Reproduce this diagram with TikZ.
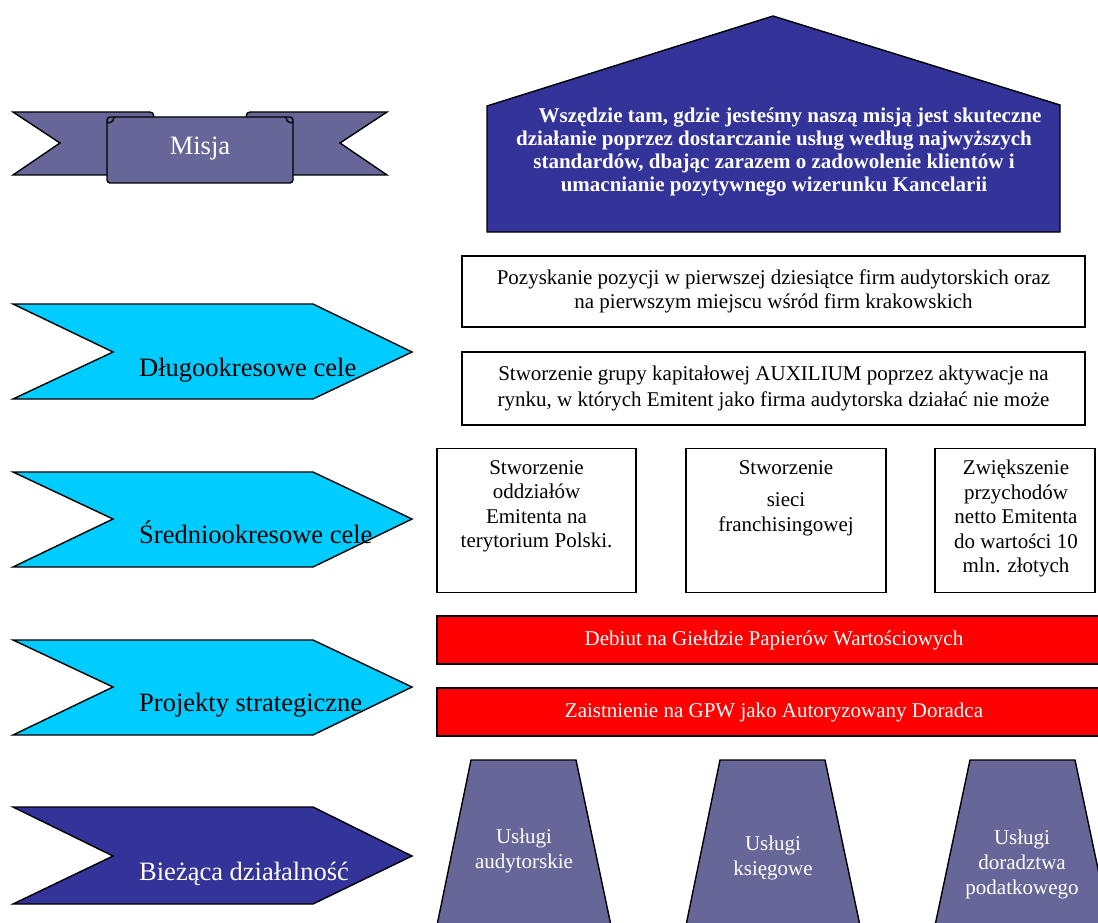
\documentclass[tikz,border=0pt]{standalone}
\usepackage{fontspec}
\setmainfont{Liberation Serif}
\definecolor{cyanc}{HTML}{00CCFF}
\definecolor{navy}{HTML}{333399}
\definecolor{ribbon}{HTML}{666699}
\definecolor{redc}{HTML}{FF0000}
\tikzset{
  outline/.style={draw=black, line width=1.4pt, line join=miter},
  chevc/.style={outline, fill=cyanc},
  chevn/.style={outline, fill=navy},
  lbl/.style={font=\fontsize{26.5}{30}\selectfont, anchor=base west, inner sep=0pt},
  boxt/.style={font=\fontsize{21}{24.5}\selectfont, align=center, inner sep=0pt},
  wbox/.style={outline, fill=white, inner sep=0pt},
  redbar/.style={outline, fill=redc, text=white, font=\fontsize{21}{24.5}\selectfont, inner sep=0pt},
  trap/.style={outline, fill=ribbon},
  traptext/.style={text=white, font=\fontsize{21}{25}\selectfont, align=center, inner sep=0pt},
}
\begin{document}
\begin{tikzpicture}[x=1pt, y=-1pt]
\useasboundingbox (0,0) rectangle (1098,923);
\clip (0,0) rectangle (1098,923);
\fill[white] (0,0) rectangle (1098,923);

% Misja ribbon
\draw[outline, fill=ribbon] (13,112) -- (150,112) .. controls (155,112) and (155,120) .. (150,120) -- (150,175) -- (13,175) -- (60,143) -- cycle;
\draw[outline, fill=ribbon] (387,112) -- (250,112) .. controls (245,112) and (245,120) .. (250,120) -- (250,175) -- (387,175) -- (340,143) -- cycle;
\draw[outline, fill=ribbon, rounded corners=3pt] (107,117) rectangle (293,183);
\draw[outline] (107,122) .. controls (109,124) and (114,122) .. (114,117);
\draw[outline] (293,122) .. controls (291,124) and (286,122) .. (286,117);
\node[font=\fontsize{26.5}{30}\selectfont, text=white, anchor=base, inner sep=0pt] (misja) at (200,154) {Misja};

% House
\draw[outline, fill=navy] (487,232) -- (487,106) -- (773,16) -- (1060,105) -- (1060,232) -- cycle;
\node[text=white, font=\bfseries\fontsize{21}{23}\selectfont, align=center, inner sep=0pt] (mission) at (774,152) {\hspace*{32pt}Wszędzie tam, gdzie jesteśmy naszą misją jest skuteczne\\działanie poprzez dostarczanie usług według najwyższych\\standardów, dbając zarazem o zadowolenie klientów i\\umacnianie pozytywnego wizerunku Kancelarii};

% Chevrons
\draw[chevc] (13,304) -- (313,304) -- (412,352) -- (313,399) -- (13,399) -- (113,352) -- cycle;
\node[lbl] (l1) at (139,376) {Długookresowe cele};
\draw[chevc] (13,472) -- (313,472) -- (412,519) -- (313,567) -- (13,567) -- (113,519) -- cycle;
\node[lbl] (l2) at (139,543) {Średniookresowe cele};
\draw[chevc] (13,640) -- (313,640) -- (412,687) -- (313,735) -- (13,735) -- (113,687) -- cycle;
\node[lbl] (l3) at (139,711) {Projekty strategiczne};
\draw[chevn] (13,807) -- (313,807) -- (412,856) -- (313,904) -- (13,904) -- (113,856) -- cycle;
\node[lbl, text=white] (l4) at (139,880) {Bieżąca działalność};

% Long-term goal boxes
\node[wbox, minimum width=623pt, minimum height=71pt, boxt] (g1) at (773.5,291.5) {Pozyskanie pozycji w pierwszej dziesiątce firm audytorskich oraz\\na pierwszym miejscu wśród firm krakowskich};
\node[wbox, minimum width=623pt, minimum height=73pt, boxt, font=\fontsize{21}{26}\selectfont] (g2) at (773.5,388.5) {Stworzenie grupy kapitałowej AUXILIUM poprzez aktywacje na\\rynku, w których Emitent jako firma audytorska działać nie może};

% Mid-term boxes
\node[wbox, minimum width=199pt, minimum height=144pt] (m1) at (536.5,520.5) {};
\node[wbox, minimum width=200pt, minimum height=144pt] (m2) at (786,520.5) {};
\node[wbox, minimum width=160pt, minimum height=144pt] (m3) at (1015,520.5) {};
\node[boxt, anchor=north] (m1t) at (536.5,460) {Stworzenie\\oddziałów\\Emitenta na\\terytorium Polski.};
\node[boxt, anchor=north] (m2t) at (786,460) {Stworzenie\\[8pt]sieci\\franchisingowej};
\node[boxt, anchor=north] (m3t) at (1016,460) {Zwiększenie\\przychodów\\netto Emitenta\\do wartości 10\\mln. złotych};

% Strategic projects bars
\node[redbar, minimum width=674pt, minimum height=48pt] (s1) at (774,640) {Debiut na Giełdzie Papierów Wartościowych};
\node[redbar, minimum width=674pt, minimum height=48pt] (s2) at (774,712) {Zaistnienie na GPW jako Autoryzowany Doradca};

% Current activity trapezoids
\draw[trap] (471,760) -- (576,760) -- (613,935) -- (435,935) -- cycle;
\node[traptext] (u1) at (524,851) {Usługi\\audytorskie};
\draw[trap] (720,760) -- (825,760) -- (862,935) -- (684,935) -- cycle;
\node[traptext] (u2) at (773,858) {Usługi\\księgowe};
\draw[trap] (970,760) -- (1075,760) -- (1112,935) -- (933,935) -- cycle;
\node[traptext] (u3) at (1022,864) {Usługi\\doradztwa\\podatkowego};
\end{tikzpicture}
\end{document}
